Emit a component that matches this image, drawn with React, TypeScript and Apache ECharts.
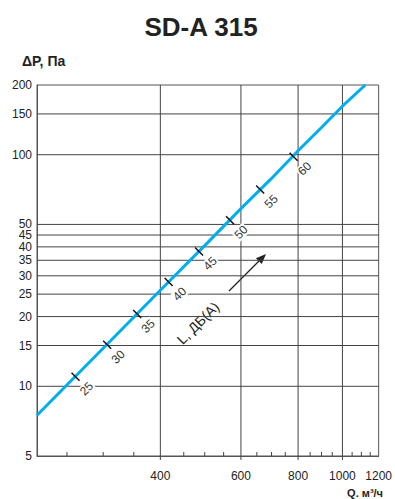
import React, { useEffect, useRef } from 'react';
import * as echarts from 'echarts';

const qMin = 215;
const qMax = 1200;
const pMin = 5;
const pMax = 200;

const xLabels = [400, 600, 800, 1000, 1200];
const xGrid = [400, 600, 800, 1000];
const xMinor = [250, 300, 350, 450, 500, 550, 650, 700, 750, 850, 900, 950, 1050, 1100, 1150];
const yLabels = [5, 10, 15, 20, 25, 30, 35, 40, 45, 50, 100, 150, 200];
const yGrid = [10, 15, 20, 25, 30, 35, 40, 45, 50, 100, 150];

const curveQ = [215, 300, 400, 500, 600, 700, 800, 900, 1000, 1122];
const curveP = [7.5, 14.6, 26, 40.5, 58.5, 79, 104, 131, 162, 200];

const noiseQ = [261, 306, 356, 417, 486, 568, 661, 782];
const noiseP = [11.0, 15.1, 20.5, 28.2, 38.2, 52.1, 70.8, 98];
const noiseDb = [25, 30, 35, 40, 45, 50, 55, 60];

const lg = (v: number) => Math.log10(v);
const FONT = '"Liberation Sans", Arial, Helvetica, sans-serif';

export default function App() {
  const ref = useRef<HTMLDivElement>(null);
  useEffect(() => {
    const chart = echarts.init(ref.current!, null, { renderer: 'svg' });
    const gridData = [
      ...xGrid.map((q) => [lg(q), lg(pMin), 0]),
      ...yGrid.map((p) => [lg(qMin), lg(p), 1]),
    ];
    chart.setOption({
      animation: false,
      grid: {
        left: 37,
        right: 16,
        top: 85,
        bottom: 43,
        show: true,
        borderColor: '#555',
        borderWidth: 1,
        backgroundColor: 'transparent',
      },
      xAxis: {
        type: 'value',
        min: lg(qMin),
        max: lg(qMax),
        axisLine: { show: true, lineStyle: { color: '#555', width: 1 } },
        axisTick: { show: false },
        splitLine: { show: false },
        axisLabel: {
          customValues: xLabels.map(lg),
          formatter: (v: number) => String(Math.round(Math.pow(10, v))),
          color: '#222',
          fontSize: 12,
          fontFamily: FONT,
          margin: 14,
          showMinLabel: true,
          showMaxLabel: true,
        },
      },
      yAxis: {
        type: 'value',
        min: lg(pMin),
        max: lg(pMax),
        axisLine: { show: true, lineStyle: { color: '#555', width: 1 } },
        axisTick: { show: false },
        splitLine: { show: false },
        axisLabel: {
          customValues: yLabels.map(lg),
          formatter: (v: number) => String(Math.round(Math.pow(10, v))),
          color: '#222',
          fontSize: 12,
          lineHeight: 9,
          fontFamily: FONT,
          margin: 5,
          showMinLabel: true,
          showMaxLabel: true,
          hideOverlap: false,
        },
      },
      series: [
        {
          type: 'custom',
          z: 1,
          silent: true,
          data: gridData,
          renderItem: (params: any, api: any) => {
            const cs = params.coordSys;
            const kind = api.value(2);
            const pt = api.coord([api.value(0), api.value(1)]);
            if (kind === 0) {
              return {
                type: 'line',
                shape: { x1: pt[0], y1: cs.y, x2: pt[0], y2: cs.y + cs.height + 4 },
                style: { stroke: '#444', lineWidth: 1 },
              };
            }
            return {
              type: 'line',
              shape: { x1: cs.x, y1: pt[1], x2: cs.x + cs.width, y2: pt[1] },
              style: { stroke: '#444', lineWidth: 1 },
            };
          },
        },
        {
          type: 'custom',
          z: 1,
          silent: true,
          data: xMinor.map((q) => [lg(q), lg(pMin)]),
          renderItem: (params: any, api: any) => {
            const pt = api.coord([api.value(0), api.value(1)]);
            return {
              type: 'line',
              shape: { x1: pt[0], y1: pt[1], x2: pt[0], y2: pt[1] - 4 },
              style: { stroke: '#444', lineWidth: 1 },
            };
          },
        },
        {
          type: 'line',
          z: 3,
          silent: true,
          showSymbol: false,
          symbol: 'none',
          data: curveQ.map((q, i) => [lg(q), lg(curveP[i])]),
          lineStyle: { color: '#00AEEF', width: 3 },
        },
        {
          type: 'custom',
          z: 4,
          silent: true,
          data: noiseQ.map((q, i) => [lg(q), lg(noiseP[i]), noiseDb[i]]),
          renderItem: (params: any, api: any) => {
            const pt = api.coord([api.value(0), api.value(1)]);
            return {
              type: 'group',
              children: [
                {
                  type: 'line',
                  shape: { x1: pt[0] - 4, y1: pt[1] - 4, x2: pt[0] + 4, y2: pt[1] + 4 },
                  style: { stroke: '#111', lineWidth: 1.5 },
                },
                {
                  type: 'text',
                  x: pt[0] + 11,
                  y: pt[1] + 12,
                  rotation: Math.PI / 4,
                  style: {
                    text: String(api.value(2)),
                    x: 0,
                    y: 0,
                    font: `12px ${FONT}`,
                    fill: '#333',
                    align: 'center',
                    verticalAlign: 'middle',
                    textAlign: 'center',
                    textVerticalAlign: 'middle',
                    backgroundColor: '#fff',
                    padding: [0, 1],
                  },
                },
              ],
            };
          },
        },
      ],
      graphic: [
        {
          type: 'text',
          x: 201,
          y: 26.5,
          style: {
            text: 'SD-A 315',
            font: `bold 26px ${FONT}`,
            fill: '#222',
            align: 'center',
            verticalAlign: 'middle',
            textAlign: 'center',
            textVerticalAlign: 'middle',
          },
        },
        {
          type: 'text',
          x: 22,
          y: 61,
          style: {
            text: 'ΔP, Па',
            font: `bold 14px ${FONT}`,
            fill: '#222',
            align: 'left',
            verticalAlign: 'middle',
            textAlign: 'left',
            textVerticalAlign: 'middle',
          },
        },
        {
          type: 'text',
          x: 383,
          y: 493,
          style: {
            text: 'Q. м³/ч',
            font: `bold 11px ${FONT}`,
            fill: '#222',
            align: 'right',
            verticalAlign: 'middle',
            textAlign: 'right',
            textVerticalAlign: 'middle',
          },
        },
        {
          type: 'text',
          x: 198,
          y: 323,
          rotation: Math.PI / 4,
          style: {
            text: 'L, ДБ(А)',
            font: `14px ${FONT}`,
            fill: '#222',
            align: 'center',
            verticalAlign: 'middle',
            textAlign: 'center',
            textVerticalAlign: 'middle',
          },
        },
        {
          type: 'line',
          shape: { x1: 229, y1: 291, x2: 259, y2: 261 },
          style: { stroke: '#222', lineWidth: 1.3 },
        },
        {
          type: 'polygon',
          shape: { points: [[266, 254], [261.8, 264.1], [255.9, 258.2]] },
          style: { fill: '#222' },
        },
      ],
    });
    return () => chart.dispose();
  }, []);
  return (
    <div
      ref={ref}
      style={{ position: 'fixed', left: 0, top: 0, width: 395, height: 499, background: '#fff' }}
    />
  );
}
